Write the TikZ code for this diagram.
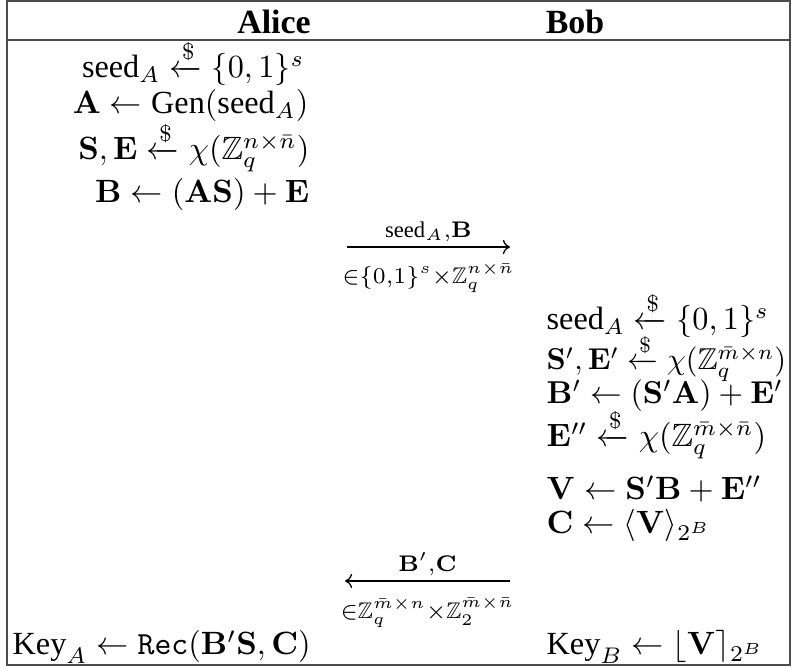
\documentclass[tikz,border=0pt]{standalone}
\usepackage{amsmath,amssymb,graphicx}
\usepackage[no-math]{fontspec}
\setmainfont{Liberation Serif}
\usetikzlibrary{arrows.meta}
\tikzset{
  frame/.style={draw=black!70, line width=0.45pt},
  head/.style={font=\fontsize{10.5}{12}\selectfont\bfseries, inner sep=0pt},
  aline/.style={anchor=base east, inner sep=0pt},
  bline/.style={anchor=base west, inner sep=0pt},
  msg/.style={line width=0.4pt, -{To[length=2.2pt,width=4.4pt]}},
  lbla/.style={above, inner sep=1.5pt},
  lblb/.style={below, inner sep=1.5pt, yshift=-3.2pt}
}
\newcommand{\rnd}{\xleftarrow{\$}}
\newcommand{\txt}[1]{\text{#1}}
\begin{document}
\begin{tikzpicture}[x=0.31pt,y=-0.31pt]
\useasboundingbox (0,0) rectangle (793,668);
\draw[frame] (7,1) rectangle (790,665);
\draw[frame] (7,40) -- (790,40);
\node[head] (alice) at (274,22) {Alice};
\node[head] (bob) at (575,22) {Bob};
% Alice
\node[aline] (a1) at (305,78) {$\txt{seed}_A \rnd \{0,1\}^s$};
\node[aline] (a2) at (309,114) {$\mathbf{A} \leftarrow \txt{Gen}(\txt{seed}_A)$};
\node[aline] (a3) at (310,160) {$\mathbf{S},\mathbf{E} \rnd \chi(\mathbb{Z}_q^{n\times\bar n})$};
\node[aline] (a4) at (310,203) {$\mathbf{B} \leftarrow (\mathbf{A}\mathbf{S}) + \mathbf{E}$};
% message 1
\coordinate (m1s) at (347,247);
\coordinate (m1e) at (510,247);
\draw[msg] (m1s) -- node[lbla] (l1a) {$\scriptstyle \txt{seed}_A,\mathbf{B}$}
  node[lblb] (l1b) {$\scriptstyle \in\{0,1\}^s\times\mathbb{Z}_q^{n\times\bar n}$} (m1e);
% Bob
\node[bline] (b1) at (546,330) {$\txt{seed}_A \rnd \{0,1\}^s$};
\node[bline] (b2) at (546,370) {\scalebox{0.935}{$\mathbf{S}',\mathbf{E}' \rnd \chi(\mathbb{Z}_q^{\bar m\times n})$}};
\node[bline] (b3) at (546,404) {\scalebox{0.98}{$\mathbf{B}' \leftarrow (\mathbf{S}'\mathbf{A}) + \mathbf{E}'$}};
\node[bline] (b4) at (546,447) {$\mathbf{E}'' \rnd \chi(\mathbb{Z}_q^{\bar m\times\bar n})$};
\node[bline] (b5) at (546,500) {$\mathbf{V} \leftarrow \mathbf{S}'\mathbf{B} + \mathbf{E}''$};
\node[bline] (b6) at (546,534) {$\mathbf{C} \leftarrow \langle\mathbf{V}\rangle_{2^B}$};
% message 2
\coordinate (m2s) at (510,581);
\coordinate (m2e) at (345,581);
\draw[msg] (m2s) -- node[lbla] (l2a) {$\scriptstyle \mathbf{B}',\mathbf{C}$}
  node[lblb] (l2b) {$\scriptstyle \in\mathbb{Z}_q^{\bar m\times n}\times\mathbb{Z}_2^{\bar m\times\bar n}$} (m2e);
% keys
\node[anchor=base west, inner sep=0pt] (ka) at (12,655) {$\txt{Key}_A \leftarrow \texttt{Rec}(\mathbf{B}'\mathbf{S},\mathbf{C})$};
\node[bline] (kb) at (546,655) {$\txt{Key}_B \leftarrow \lfloor\mathbf{V}\rceil_{2^B}$};
\end{tikzpicture}
\end{document}
